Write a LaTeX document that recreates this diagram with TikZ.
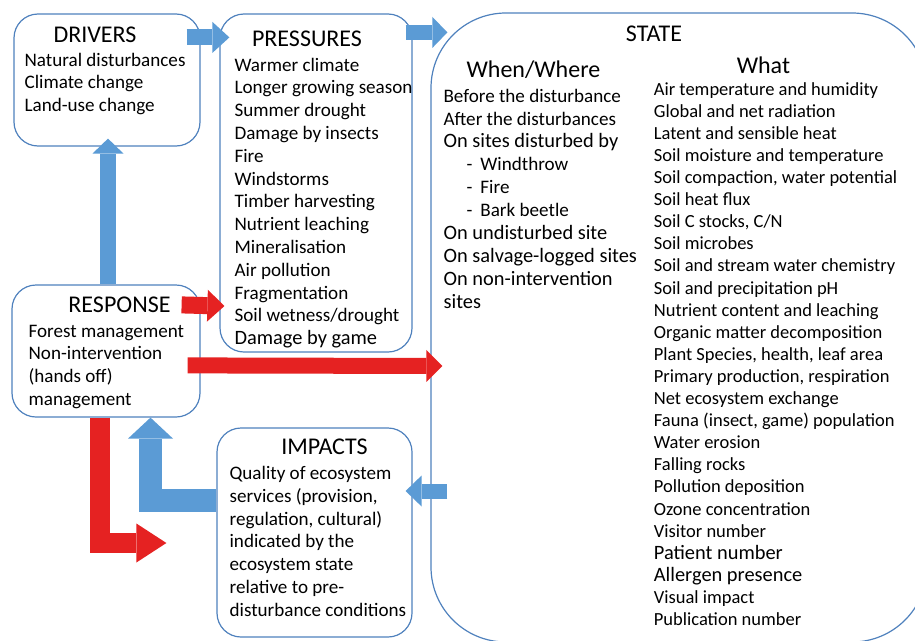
\documentclass[tikz,border=0pt]{standalone}
\usepackage{fontspec}
\setmainfont{Carlito}
\usetikzlibrary{arrows.meta}
\definecolor{boxline}{RGB}{79,129,189}
\definecolor{arrowblue}{RGB}{91,155,213}
\definecolor{arrowred}{RGB}{229,34,34}
\newcommand{\bigitem}[1]{{\fontsize{20.4}{22.8}\selectfont #1}}
\begin{document}
\begin{tikzpicture}[x=1pt,y=-1pt,
    box/.style={draw=boxline,line width=1.2pt,rounded corners=24pt,inner sep=0pt},
    title/.style={anchor=base,inner sep=0pt,font=\fontsize{24}{28}\selectfont},
    items/.style={anchor=base west,inner sep=0pt,align=left,font=\fontsize{19.1}{22.8}\selectfont},
    blockarrow/.style n args={3}{line width=#1,-{Triangle[width=#2,length=#3,line width=0pt]}}]
    \useasboundingbox (0,0) rectangle (915,640);
    \clip (0,0) rectangle (915,640);
    % boxes
    \node[box,minimum width=186pt,minimum height=132pt] (drivers) at (107,80) {};
    \node[box,minimum width=192pt,minimum height=338pt] (pressures) at (316,183) {};
    \node[box,minimum width=188pt,minimum height=132pt] (response) at (106,351) {};
    \node[box,minimum width=195pt,minimum height=209pt] (impacts) at (314.5,532.5) {};
    \node[box,rounded corners=75pt,minimum width=496pt,minimum height=629pt] (state) at (679,327.5) {};
    % drivers (lists sit on the baseline of their last line)
    \node[title,xshift=-12pt,yshift=-28.7pt] (driverstitle) at (drivers.north) {DRIVERS};
    \node[items,xshift=11pt,yshift=-98.3pt] (driverslist) at (drivers.north west)
        {Natural disturbances\\Climate change\\Land-use change};
    % pressures
    \node[title,xshift=-9pt,yshift=-33.3pt] (pressurestitle) at (pressures.north) {PRESSURES};
    \node[items,xshift=15pt,yshift=-331.3pt] (pressureslist) at (pressures.north west)
        {Warmer climate\\Longer growing season\\Summer drought\\Damage by insects\\Fire\\
         Windstorms\\Timber harvesting\\Nutrient leaching\\Mineralisation\\Air pollution\\
         Fragmentation\\Soil wetness/drought\\\bigitem{Damage by game}};
    % response
    \node[title,xshift=13.5pt,yshift=-28.3pt] (responsetitle) at (response.north) {RESPONSE};
    \node[items,xshift=17pt,yshift=-121.1pt] (responselist) at (response.north west)
        {Forest management\\Non-intervention\\(hands off)\\management};
    % impacts
    \node[title,xshift=10pt,yshift=-27pt] (impactstitle) at (impacts.north) {IMPACTS};
    \node[items,xshift=13pt,yshift=-188.8pt] (impactslist) at (impacts.north west)
        {Quality of ecosystem\\services (provision,\\regulation, cultural)\\indicated by the\\
         ecosystem state\\relative to pre-\\disturbance conditions};
    % state
    \node[title,xshift=-25pt,yshift=-29.3pt] (statetitle) at (state.north) {STATE};
    \node[title,xshift=103pt,yshift=-65.3pt] (whentitle) at (state.north west) {When/Where};
    \node[items,font=\fontsize{19.1}{22.9}\selectfont,xshift=13pt,yshift=-295.8pt] (whenlist) at (state.north west)
        {Before the disturbance\\After the disturbances\\\bigitem{On sites disturbed by}\\
         \hspace*{23pt}-\hspace{8pt}Windthrow\\\hspace*{23pt}-\hspace{8pt}Fire\\
         \hspace*{23pt}-\hspace{8pt}Bark beetle\\\bigitem{On undisturbed site}\\
         \bigitem{On salvage-logged sites}\\\bigitem{On non-intervention}\\\bigitem{sites}};
    \node[title,xshift=333pt,yshift=-61pt] (whattitle) at (state.north west) {What};
    \node[items,font=\fontsize{18.5}{22.1}\selectfont,xshift=223.3pt,yshift=-613.1pt] (whatlist) at (state.north west)
        {Air temperature and humidity\\Global and net radiation\\Latent and sensible heat\\
         Soil moisture and temperature\\Soil compaction, water potential\\Soil heat flux\\
         Soil C stocks, C/N\\Soil microbes\\Soil and stream water chemistry\\
         Soil and precipitation pH\\Nutrient content and leaching\\Organic matter decomposition\\
         Plant Species, health, leaf area\\Primary production, respiration\\
         Net ecosystem exchange\\Fauna (insect, game) population\\Water erosion\\
         Falling rocks\\Pollution deposition\\Ozone concentration\\Visitor number\\
         \bigitem{Patient number}\\\bigitem{Allergen presence}\\Visual impact\\
         Publication number};
    % blue arrows
    \draw[arrowblue,blockarrow={16pt}{31pt}{17pt}] ([xshift=-14pt,yshift=-24pt]drivers.north east)
        -- ([xshift=10pt,yshift=-24pt]pressures.north west);
    \draw[arrowblue,blockarrow={15pt}{31pt}{15pt}] ([xshift=-7pt,yshift=-19pt]pressures.north east)
        -- ([xshift=17pt,yshift=-20pt]state.north west);
    \draw[arrowblue,blockarrow={16pt}{31pt}{15pt}] ([xshift=2pt]response.north)
        -- ([xshift=1pt,yshift=8pt]drivers.south);
    \draw[arrowblue,blockarrow={15pt}{31pt}{16pt}] ([xshift=17pt,yshift=-163.5pt]state.west)
        -- ([xshift=-7pt,yshift=41.5pt]impacts.east);
    \draw[arrowblue,blockarrow={23pt}{45pt}{21pt}] ([yshift=32.5pt]impacts.west)
        -| ([xshift=44.5pt]response.south);
    % red arrows
    \draw[arrowred,blockarrow={17pt}{32pt}{17pt}] ([xshift=-19pt,yshift=-20.5pt]response.north east)
        -- ([xshift=5pt,yshift=46.5pt]pressures.south west);
    \draw[arrowred,blockarrow={16pt}{32pt}{16pt}] ([xshift=-13pt,yshift=-81pt]response.north east)
        -- ([xshift=12pt,yshift=-38.5pt]state.west);
    \draw[arrowred,blockarrow={20pt}{39pt}{30pt}] ([xshift=-6pt]response.south)
        |- ([xshift=-50pt,yshift=-10.5pt]impacts.west);
\end{tikzpicture}
\end{document}
